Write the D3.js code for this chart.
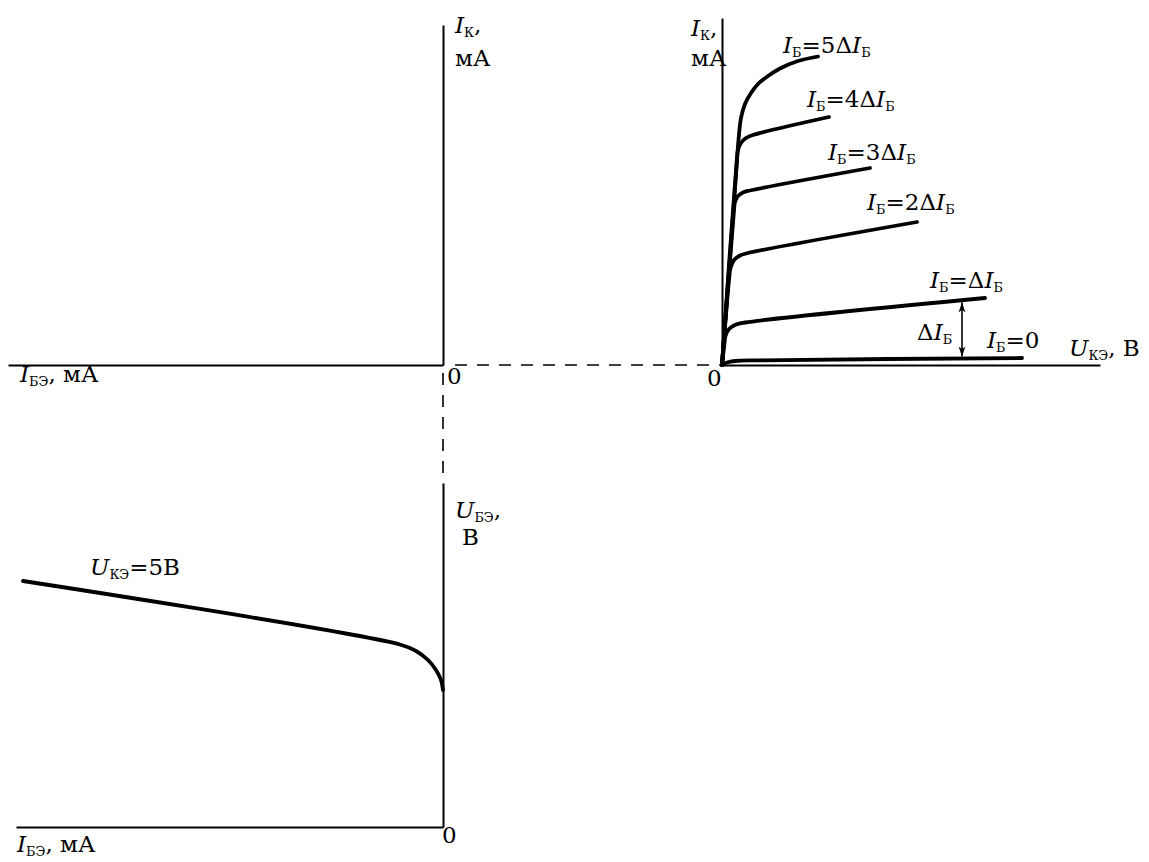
<!DOCTYPE html>
<html>
<head>
<meta charset="utf-8">
<script src="https://cdn.jsdelivr.net/npm/d3@7"></script>
<style>
  html, body { margin: 0; padding: 0; background: #fff; }
  svg text { font-family: "DejaVu Serif", "Liberation Serif", serif; fill: #000; }
</style>
</head>
<body>
<svg id="chart" width="1149" height="862"></svg>
<script>
// ---- Output characteristics: U_КЭ (V) against I_К (mA), one curve per base-current step ----
const baseSteps = ["5Δ", "4Δ", "3Δ", "2Δ", "Δ", "0"];

const uCE_5 = [0, 0.7, 0.825, 0.95, 1.15, 1.45, 1.8, 2.3, 2.9, 3.8, 4.8];
const iC_5  = [0, 3.8, 4.5, 4.94, 5.22, 5.44, 5.62, 5.78, 5.93, 6.08, 6.17];

const uCE_4 = [0, 0.74, 0.8, 0.95, 1.2, 1.55, 5.35];
const iC_4  = [0, 4.1, 4.3, 4.44, 4.54, 4.6, 4.96];

const uCE_3 = [0, 0.6, 0.65, 0.8, 1.05, 1.4, 7.4];
const iC_3  = [0, 3.1, 3.26, 3.38, 3.45, 3.49, 3.94];

const uCE_2 = [0, 0.35, 0.425, 0.6, 0.9, 1.2, 9.75];
const iC_2  = [0, 1.7, 1.94, 2.1, 2.19, 2.23, 2.86];

const uCE_1 = [0, 0.115, 0.175, 0.35, 0.7, 1.15, 13.15];
const iC_1  = [0, 0.4, 0.58, 0.72, 0.81, 0.85, 1.34];

const uCE_0 = [0, 0.25, 0.65, 1.9, 15];
const iC_0  = [0, 0.05, 0.08, 0.094, 0.14];

// Voltage at which the ΔI_Б step is marked
const stepMarkU = 12;

// ---- Input characteristic at U_КЭ = 5 V: I_БЭ (mA) against U_БЭ (V) ----
const iBE = [0, 0.04, 0.14, 0.3, 0.54, 0.86, 8.4];
const uBE = [2.74, 2.94, 3.14, 3.34, 3.52, 3.65, 4.92];

// ---------------------------------------------------------------------------
const svg = d3.select("#chart");
const FONT = 23;

// Scales for the right (output) quadrant
const xOut = d3.scaleLinear().domain([0, 18.9]).range([722, 1100]);
const yOut = d3.scaleLinear().domain([0, 6.94]).range([365, 18]);

// Scales for the left quadrants (I_БЭ grows to the left)
const xIn  = d3.scaleLinear().domain([0, 8.7]).range([443, 8]);
const yTop = d3.scaleLinear().domain([0, 6.8]).range([365, 25]);   // I_К, upper left
const yIn  = d3.scaleLinear().domain([0, 6.88]).range([827, 483]);  // U_БЭ, lower left

const axisStyle = g => g.select(".domain").attr("stroke", "#000").attr("stroke-width", 2);

// Output axes
svg.append("g").attr("transform", `translate(0,${yOut(0)})`)
  .call(d3.axisBottom(xOut).tickValues([]).tickSizeOuter(0)).call(axisStyle);
svg.append("g").attr("transform", `translate(${xOut(0)},0)`)
  .call(d3.axisLeft(yOut).tickValues([]).tickSizeOuter(0)).call(axisStyle);

// Upper-left axes
svg.append("g").attr("transform", `translate(0,${yTop(0)})`)
  .call(d3.axisBottom(xIn).tickValues([]).tickSizeOuter(0)).call(axisStyle);
svg.append("g").attr("transform", `translate(${xIn(0)},0)`)
  .call(d3.axisLeft(yTop).tickValues([]).tickSizeOuter(0)).call(axisStyle);

// Lower-left axes
const xInLow = d3.scaleLinear().domain([0, 8.54]).range([443, 16]);
svg.append("g").attr("transform", `translate(0,${yIn(0)})`)
  .call(d3.axisBottom(xInLow).tickValues([]).tickSizeOuter(0)).call(axisStyle);
svg.append("g").attr("transform", `translate(${xIn(0)},0)`)
  .call(d3.axisLeft(yIn).tickValues([]).tickSizeOuter(0)).call(axisStyle);

// Dashed projection lines between the quadrants
svg.append("line")
  .attr("x1", xIn(0) + 12).attr("x2", xOut(0) - 2)
  .attr("y1", yOut(0)).attr("y2", yOut(0))
  .attr("stroke", "#000").attr("stroke-width", 1.6).attr("stroke-dasharray", "12 10");
svg.append("line")
  .attr("x1", xIn(0)).attr("x2", xIn(0))
  .attr("y1", yTop(0) + 8).attr("y2", yIn.range()[1])
  .attr("stroke", "#000").attr("stroke-width", 1.6).attr("stroke-dasharray", "12 10");

// Output curves
const outSeries = [
  [uCE_5, iC_5], [uCE_4, iC_4], [uCE_3, iC_3],
  [uCE_2, iC_2], [uCE_1, iC_1], [uCE_0, iC_0]
];
const outLine = d3.line()
  .x(d => xOut(d[0])).y(d => yOut(d[1]))
  .curve(d3.curveCatmullRom.alpha(0.5));

svg.append("g").selectAll("path")
  .data(outSeries.map(([u, i]) => u.map((v, k) => [v, i[k]])))
  .join("path")
  .attr("d", outLine)
  .attr("fill", "none").attr("stroke", "#000")
  .attr("stroke-width", 3.8).attr("stroke-linecap", "round").attr("stroke-linejoin", "round");

// Input curve
const inLine = d3.line()
  .x(d => xIn(d[0])).y(d => yIn(d[1]))
  .curve(d3.curveCatmullRom.alpha(0.5));
svg.append("path")
  .datum(iBE.map((v, k) => [v, uBE[k]]))
  .attr("d", inLine)
  .attr("fill", "none").attr("stroke", "#000")
  .attr("stroke-width", 3.8).attr("stroke-linecap", "round");

// Rich text helper: parts are [text, kind] where kind is "i" (italic), "s" (subscript) or "" (plain)
function rich(x, y, parts, size = FONT) {
  const t = svg.append("text").attr("x", x).attr("y", y).attr("font-size", size);
  let shifted = false;
  parts.forEach(([txt, kind]) => {
    const sp = t.append("tspan").text(txt);
    if (kind === "i") sp.attr("font-style", "italic");
    if (kind === "s") {
      sp.attr("font-size", size * 0.56);
      if (!shifted) { sp.attr("dy", 4); shifted = true; }
    } else if (shifted) {
      sp.attr("dy", -4); shifted = false;
    }
  });
  return t;
}

// Curve labels, placed relative to the end of each curve
const labelShift = [[-35, -4], [-22, -10], [-42, -8], [-50, -12], [-55, -10], [-35, -10]];
outSeries.forEach(([u, i], k) => {
  const x = xOut(u[u.length - 1]) + labelShift[k][0];
  const y = yOut(i[i.length - 1]) + labelShift[k][1];
  const step = baseSteps[k];
  const parts = [["I", "i"], ["Б", "s"], ["=" + step, ""]];
  if (step !== "0") parts.push(["I", "i"], ["Б", "s"]);
  rich(x, y, parts);
});

// ΔI_Б step marker between the first two curves
const ib1At = d3.scaleLinear().domain(uCE_1).range(iC_1);
const ib0At = d3.scaleLinear().domain(uCE_0).range(iC_0);
const defs = svg.append("defs");
defs.append("marker").attr("id", "head")
  .attr("viewBox", "0 0 10 8").attr("refX", 10).attr("refY", 4)
  .attr("markerWidth", 10).attr("markerHeight", 8).attr("markerUnits", "userSpaceOnUse")
  .attr("orient", "auto-start-reverse")
  .append("path").attr("d", "M0,0.6 L10,4 L0,7.4 L2.5,4 Z").attr("fill", "#000");
svg.append("line")
  .attr("x1", xOut(stepMarkU)).attr("x2", xOut(stepMarkU))
  .attr("y1", yOut(ib1At(stepMarkU)) + 2).attr("y2", yOut(ib0At(stepMarkU)) - 2)
  .attr("stroke", "#000").attr("stroke-width", 1.6)
  .attr("marker-start", "url(#head)").attr("marker-end", "url(#head)");
rich(xOut(stepMarkU) - 45, 340, [["Δ", ""], ["I", "i"], ["Б", "s"]]);

// Axis titles
rich(455, 33, [["I", "i"], ["К", "s"], [",", ""]]);
rich(455, 66, [["мА", ""]]);
rich(691, 36, [["I", "i"], ["К", "s"], [",", ""]]);
rich(691, 66, [["мА", ""]]);
rich(1069, 356, [["U", "i"], ["КЭ", "s"], [", В", ""]]);
rich(20, 382, [["I", "i"], ["БЭ", "s"], [", мА", ""]]);
rich(17, 852, [["I", "i"], ["БЭ", "s"], [", мА", ""]]);
rich(455, 518, [["U", "i"], ["БЭ", "s"], [",", ""]]);
rich(462, 545, [["В", ""]]);
rich(90, 575, [["U", "i"], ["КЭ", "s"], ["=5В", ""]]);

// Origin marks
rich(447, 384, [["0", ""]]);
rich(707, 386, [["0", ""]]);
rich(442, 843, [["0", ""]]);
</script>
</body>
</html>
